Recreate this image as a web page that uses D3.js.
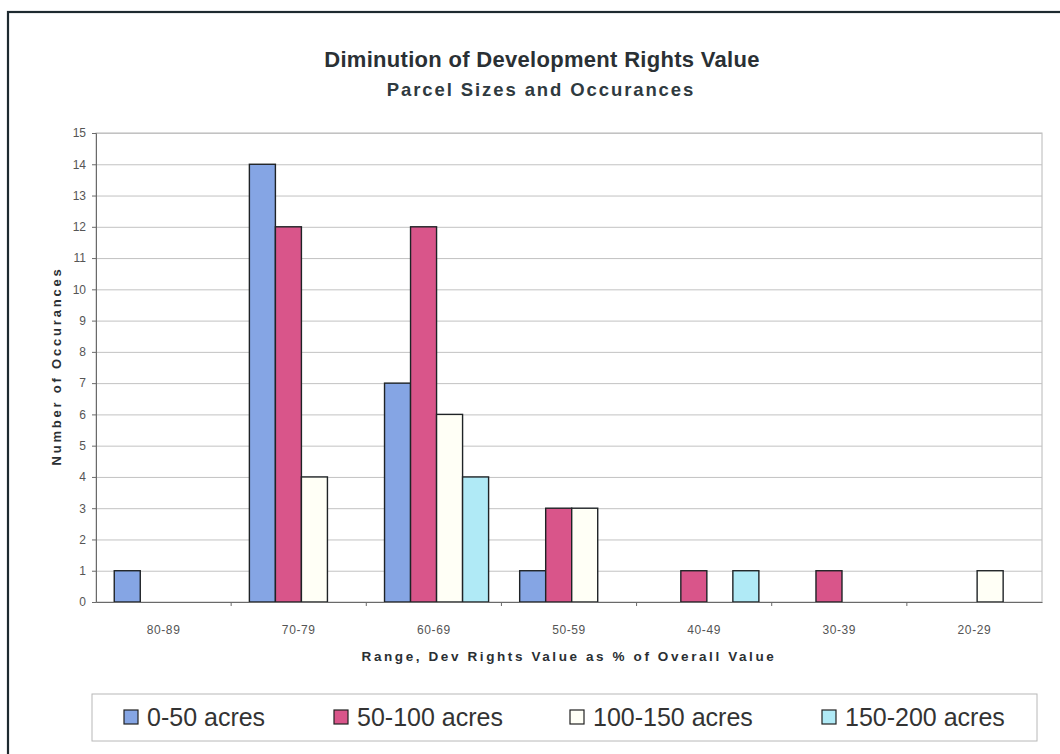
<!DOCTYPE html>
<html><head><meta charset="utf-8">
<script src="https://cdn.jsdelivr.net/npm/d3@7"></script>
<style>body{margin:0;background:#fff;}svg{display:block;font-family:"Liberation Sans",Arial,sans-serif;}</style>
</head><body>
<script>
const categories = ["80-89","70-79","60-69","50-59","40-49","30-39","20-29"];
const seriesNames = ["0-50 acres","50-100 acres","100-150 acres","150-200 acres"];
const s0_50    = [1, 14, 7, 1, 0, 0, 0];
const s50_100  = [0, 12, 12, 3, 1, 1, 0];
const s100_150 = [0, 4, 6, 3, 0, 0, 1];
const s150_200 = [0, 0, 4, 0, 1, 0, 0];
const yTicks = d3.range(0, 16);
const colors = ["#85a5e4", "#d9558a", "#fffff6", "#b0eaf6"];

const series = [s0_50, s50_100, s100_150, s150_200];
const W = 1060, H = 754;
const svg = d3.select("body").append("svg").attr("width", W).attr("height", H);

// outer border
svg.append("rect").attr("x", 8).attr("y", 12).attr("width", W + 20).attr("height", H + 20)
  .attr("fill", "none").attr("stroke", "#1e2a30").attr("stroke-width", 2.2);

const m = {l: 96, r: 1042, t: 133, b: 602};
const x = d3.scaleBand().domain(categories).range([m.l, m.r]).paddingInner(0).paddingOuter(0);
const bw = x.bandwidth();
const xs = d3.scaleBand().domain(d3.range(4)).range([bw * 0.135, bw * 0.905]).paddingInner(0).paddingOuter(0);
const y = d3.scaleLinear().domain([0, 15]).range([m.b, m.t]);

// plot area border
svg.append("rect").attr("x", m.l).attr("y", m.t).attr("width", m.r - m.l).attr("height", m.b - m.t)
  .attr("fill", "#fff").attr("stroke", "#b8b8b8").attr("stroke-width", 1);

// gridlines
svg.append("g").selectAll("line").data(yTicks.filter(d => d > 0)).join("line")
  .attr("x1", m.l).attr("x2", m.r).attr("y1", d => y(d) + 0.5).attr("y2", d => y(d) + 0.5)
  .attr("stroke", "#c2c2c2").attr("stroke-width", 1);

// y axis
const yAxis = svg.append("g").attr("transform", `translate(${m.l},0)`)
  .call(d3.axisLeft(y).tickValues(yTicks).tickSize(4).tickPadding(6).tickFormat(d3.format("d")));
yAxis.select(".domain").attr("stroke", "#6a6a6a");
yAxis.selectAll(".tick line").attr("stroke", "#6a6a6a");
yAxis.selectAll("text").attr("font-size", 12).attr("fill", "#555");

// bars
series.forEach((vals, si) => {
  svg.append("g").selectAll("rect").data(categories).join("rect")
    .filter((c, i) => vals[i] > 0)
    .attr("x", c => x(c) + xs(si))
    .attr("y", (c) => y(vals[categories.indexOf(c)]))
    .attr("width", xs.bandwidth())
    .attr("height", c => y(0) - y(vals[categories.indexOf(c)]))
    .attr("fill", colors[si]).attr("stroke", "#1f2326").attr("stroke-width", 1.4);
});

// x axis
const xAxis = svg.append("g").attr("transform", `translate(0,${m.b})`)
  .call(d3.axisBottom(x).tickSize(0).tickPadding(23));
xAxis.select(".domain").attr("stroke", "#6a6a6a");
xAxis.selectAll("text").attr("font-size", 12).attr("fill", "#555").attr("letter-spacing", "0.6px");
svg.append("g").selectAll("line").data(categories.slice(1)).join("line")
  .attr("x1", c => x(c)).attr("x2", c => x(c)).attr("y1", m.b).attr("y2", m.b + 4)
  .attr("stroke", "#6a6a6a");

// titles
svg.append("text").attr("x", 542).attr("y", 67).attr("text-anchor", "middle")
  .attr("font-size", 22).attr("font-weight", "bold").attr("fill", "#2a3034").attr("letter-spacing", "0.3px")
  .text("Diminution of Development Rights Value");
svg.append("text").attr("x", 541).attr("y", 96).attr("text-anchor", "middle")
  .attr("font-size", 18.5).attr("font-weight", "bold").attr("fill", "#2f3a40").attr("letter-spacing", "1.9px")
  .text("Parcel Sizes and Occurances");
svg.append("text").attr("x", 569).attr("y", 661).attr("text-anchor", "middle")
  .attr("font-size", 13.5).attr("font-weight", "bold").attr("fill", "#2a2f33").attr("letter-spacing", "2.6px")
  .text("Range, Dev Rights Value as % of Overall Value");
svg.append("text").attr("transform", "translate(61,366) rotate(-90)").attr("text-anchor", "middle")
  .attr("font-size", 13).attr("font-weight", "bold").attr("fill", "#2a2f33").attr("letter-spacing", "2.8px")
  .text("Number of Occurances");

// legend
svg.append("rect").attr("x", 92).attr("y", 694).attr("width", 945).attr("height", 47)
  .attr("fill", "#fff").attr("stroke", "#b8b8b8");
const legX = [124, 334, 570, 822];
seriesNames.forEach((n, i) => {
  svg.append("rect").attr("x", legX[i]).attr("y", 710).attr("width", 14).attr("height", 14)
    .attr("fill", colors[i]).attr("stroke", "#222").attr("stroke-width", 1.2);
  svg.append("text").attr("x", legX[i] + 23).attr("y", 726).attr("font-size", 25).attr("fill", "#333").text(n);
});
</script>
</body></html>
